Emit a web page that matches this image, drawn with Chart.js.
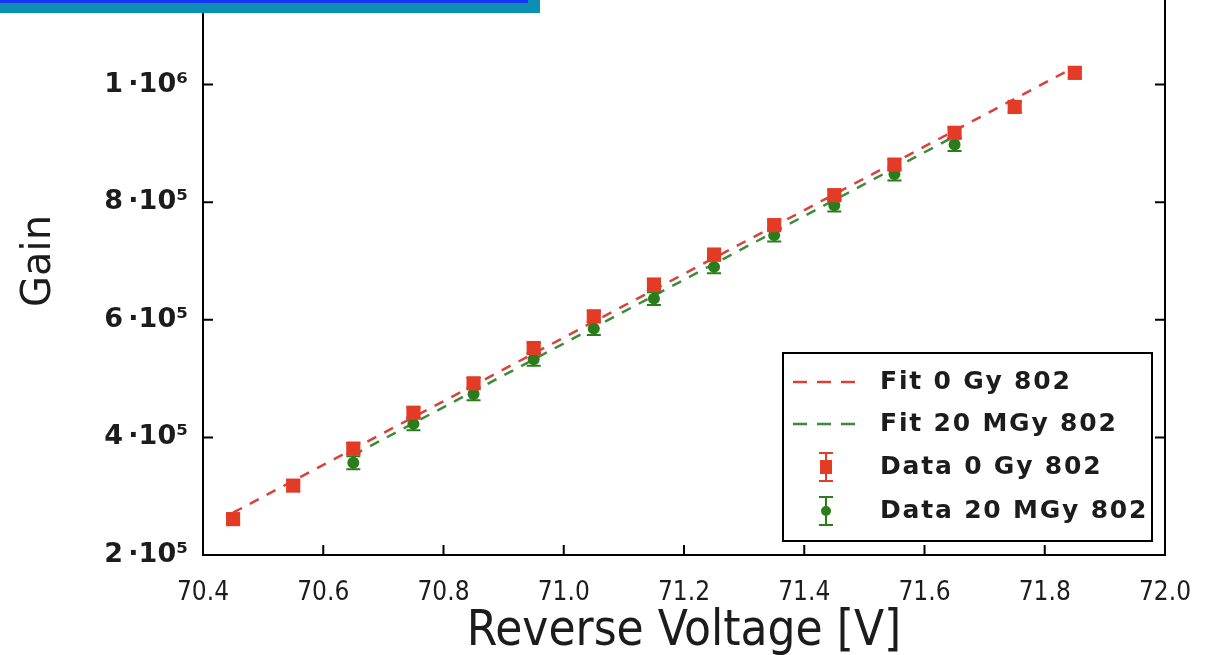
<!DOCTYPE html>
<html>
<head>
<meta charset="utf-8">
<script src="https://cdn.jsdelivr.net/npm/chart.js@4.4.1/dist/chart.umd.min.js"></script>
<style>
  html, body { margin: 0; padding: 0; background: #fff; overflow: hidden; width: 1227px; height: 655px; }
  #frame { position: absolute; left: 0; top: -43px; width: 1227px; height: 698px; }
  #band { position: absolute; left: 0; top: 0; width: 540px; height: 13px; background: #0b8fb2; }
  #bandLine { position: absolute; left: 0; top: 0; width: 528px; height: 3px; background: #1733f2; }
</style>
</head>
<body>
<div id="frame"><canvas id="gain" width="1227" height="698"></canvas></div>
<div id="band"></div>
<div id="bandLine"></div>
<script>
// Gain vs reverse voltage, unirradiated (0 Gy) and irradiated (20 MGy) sensor 802
const voltage0 = [70.45, 70.55, 70.65, 70.75, 70.85, 70.95, 71.05, 71.15, 71.25, 71.35, 71.45, 71.55, 71.65, 71.75, 71.85];
const gain0    = [2.61e5, 3.18e5, 3.81e5, 4.42e5, 4.92e5, 5.52e5, 6.06e5, 6.60e5, 7.11e5, 7.61e5, 8.12e5, 8.64e5, 9.18e5, 9.62e5, 1.020e6];
const gainErr0 = [0.9e4, 0.9e4, 0.9e4, 0.9e4, 0.9e4, 0.9e4, 0.9e4, 0.9e4, 0.9e4, 0.9e4, 0.9e4, 0.9e4, 0.9e4, 0.9e4, 0.9e4];

const voltage20 = [70.65, 70.75, 70.85, 70.95, 71.05, 71.15, 71.25, 71.35, 71.45, 71.55, 71.65];
const gain20    = [3.57e5, 4.23e5, 4.74e5, 5.33e5, 5.85e5, 6.36e5, 6.90e5, 7.44e5, 7.95e5, 8.48e5, 8.98e5];
const gainErr20 = [1.1e4, 1.1e4, 1.1e4, 1.1e4, 1.1e4, 1.1e4, 1.1e4, 1.1e4, 1.1e4, 1.1e4, 1.1e4];

// linear fits, evaluated at the ends of each data range
const fitVoltage0  = [70.45, 71.85];
const fitGain0     = [2.72e5, 1.030e6];
const fitVoltage20 = [70.65, 71.65];
const fitGain20    = [3.70e5, 9.12e5];

const xTickValues = [70.4, 70.6, 70.8, 71.0, 71.2, 71.4, 71.6, 71.8, 72.0];
const xTickLabels = ['70.4', '70.6', '70.8', '71.0', '71.2', '71.4', '71.6', '71.8', '72.0'];
const yTickValues = [2e5, 4e5, 6e5, 8e5, 1e6];
const yTickLabels = ['2\u2009\u00b710\u2075', '4\u2009\u00b710\u2075', '6\u2009\u00b710\u2075', '8\u2009\u00b710\u2075', '1\u2009\u00b710\u2076'];

const RED = '#e33b26', RED_LINE = '#d9413a';
const GREEN = '#2b7d1c', GREEN_LINE = '#3f8a38';
const COND = '"DejaVu Sans Condensed", "Liberation Sans Narrow", "DejaVu Sans", sans-serif';
const SANS = '"DejaVu Sans", sans-serif';
const INK = '#1c1c1c';

const pts = (xs, ys) => xs.map((x, i) => ({ x, y: ys[i] }));

// vertical error bars with caps, drawn right after each dataset
const errorBars = {
  id: 'errorBars',
  afterDatasetDraw(chart, args) {
    const ds = chart.data.datasets[args.index];
    if (!ds.errors) return;
    const { ctx } = chart;
    const yScale = chart.scales.y;
    ctx.save();
    ctx.strokeStyle = ds.errorColor;
    ctx.lineWidth = 2;
    args.meta.data.forEach((el, i) => {
      const v = ds.data[i].y, e = ds.errors[i];
      const top = yScale.getPixelForValue(v + e);
      const bot = yScale.getPixelForValue(v - e);
      ctx.beginPath();
      ctx.moveTo(el.x, top); ctx.lineTo(el.x, bot);
      ctx.moveTo(el.x - 7, top); ctx.lineTo(el.x + 7, top);
      ctx.moveTo(el.x - 7, bot); ctx.lineTo(el.x + 7, bot);
      ctx.stroke();
    });
    ctx.restore();
  }
};

// right frame edge and inward-pointing tick marks
const frameTicks = {
  id: 'frameTicks',
  afterDatasetsDraw(chart) {
    const { ctx, chartArea: a, scales: { x, y } } = chart;
    ctx.save();
    ctx.strokeStyle = '#000';
    ctx.lineWidth = 2;
    ctx.beginPath();
    ctx.moveTo(a.right, a.top); ctx.lineTo(a.right, a.bottom + 1);
    xTickValues.forEach(v => {
      const px = x.getPixelForValue(v);
      ctx.moveTo(px, a.bottom); ctx.lineTo(px, a.bottom - 10);
    });
    yTickValues.forEach(v => {
      const py = y.getPixelForValue(v);
      ctx.moveTo(a.left, py); ctx.lineTo(a.left + 10, py);
      ctx.moveTo(a.right, py); ctx.lineTo(a.right - 10, py);
    });
    ctx.stroke();
    ctx.restore();
  }
};

// boxed legend in the lower right corner of the plot
const legendOrder = [2, 3, 0, 1];
const boxLegend = {
  id: 'boxLegend',
  afterDraw(chart) {
    const { ctx, chartArea: a } = chart;
    const w = 369, h = 188;
    const bx = a.right - 13 - w, by = a.bottom - 14 - h;
    ctx.save();
    ctx.fillStyle = '#fff';
    ctx.fillRect(bx, by, w, h);
    ctx.strokeStyle = '#000';
    ctx.lineWidth = 2;
    ctx.strokeRect(bx, by, w, h);
    const rows = [29, 71, 114, 158];
    legendOrder.forEach((di, r) => {
      const ds = chart.data.datasets[di];
      const cy = by + rows[r];
      const cx = bx + 43;
      if (ds.showLine) {
        ctx.strokeStyle = ds.borderColor;
        ctx.lineWidth = 2.5;
        ctx.setLineDash([14, 10]);
        ctx.beginPath();
        ctx.moveTo(bx + 10, cy); ctx.lineTo(bx + 74, cy);
        ctx.stroke();
        ctx.setLineDash([]);
      } else {
        ctx.strokeStyle = ds.errorColor;
        ctx.lineWidth = 2;
        ctx.beginPath();
        ctx.moveTo(cx, cy - 14); ctx.lineTo(cx, cy + 14);
        ctx.moveTo(cx - 7, cy - 14); ctx.lineTo(cx + 7, cy - 14);
        ctx.moveTo(cx - 7, cy + 14); ctx.lineTo(cx + 7, cy + 14);
        ctx.stroke();
        ctx.fillStyle = ds.backgroundColor;
        if (ds.pointStyle === 'rect') {
          ctx.fillRect(cx - 6, cy - 7, 12, 14);
        } else {
          ctx.beginPath(); ctx.arc(cx, cy, 5, 0, Math.PI * 2); ctx.fill();
        }
      }
      ctx.fillStyle = INK;
      ctx.font = 'bold 25px ' + SANS;
      ctx.letterSpacing = '1.8px';
      ctx.textBaseline = 'middle';
      ctx.textAlign = 'left';
      ctx.fillText(ds.label, bx + 97, cy);
    });
    ctx.restore();
  }
};

new Chart(document.getElementById('gain'), {
  type: 'scatter',
  data: {
    datasets: [
      { label: 'Data 0 Gy 802', data: pts(voltage0, gain0), errors: gainErr0, errorColor: RED,
        pointStyle: 'rect', pointRadius: 10, backgroundColor: RED, borderWidth: 0, showLine: false },
      { label: 'Data 20 MGy 802', data: pts(voltage20, gain20), errors: gainErr20, errorColor: GREEN,
        pointStyle: 'circle', pointRadius: 6, backgroundColor: GREEN, borderWidth: 0, showLine: false },
      { label: 'Fit 0 Gy 802', data: pts(fitVoltage0, fitGain0), showLine: true, borderColor: RED_LINE,
        borderWidth: 2.5, borderDash: [10, 9], pointRadius: 0, fill: false },
      { label: 'Fit 20 MGy 802', data: pts(fitVoltage20, fitGain20), showLine: true, borderColor: GREEN_LINE,
        borderWidth: 2.5, borderDash: [10, 9], pointRadius: 0, fill: false }
    ]
  },
  options: {
    responsive: false,
    animation: false,
    devicePixelRatio: 1,
    layout: { padding: { left: 0, right: 62, top: 0, bottom: 0 } },
    plugins: { legend: { display: false }, tooltip: { enabled: false } },
    scales: {
      x: {
        type: 'linear', min: 70.4, max: 72.0,
        afterBuildTicks(s) { s.ticks = xTickValues.map(v => ({ value: v })); },
        afterFit(s) { s.height = 100; },
        ticks: {
          callback: (v, i) => xTickLabels[i],
          font: { family: COND, size: 26 }, color: INK, padding: 23,
          maxRotation: 0, autoSkip: false
        },
        grid: { drawOnChartArea: false, drawTicks: false },
        border: { display: true, color: '#000', width: 2 },
        title: { display: true, text: 'Reverse Voltage [V]', color: INK,
                 font: { family: COND, size: 49, lineHeight: 0.92 }, padding: { top: 0, bottom: 0 } }
      },
      y: {
        type: 'linear', min: 2e5, max: 1.2e6,
        afterBuildTicks(s) { s.ticks = yTickValues.map(v => ({ value: v })); },
        afterFit(s) { s.width = 203; s.paddingTop = 0; s.paddingBottom = 0; },
        ticks: {
          callback: (v, i) => yTickLabels[i],
          font: { family: SANS, size: 27, weight: 'bold' }, color: INK, padding: 15
        },
        grid: { drawOnChartArea: false, drawTicks: false },
        border: { display: true, color: '#000', width: 2 },
        title: { display: true, text: 'Gain', color: INK,
                 font: { family: SANS, size: 40, lineHeight: 1.2 }, padding: { top: 16, bottom: 0 } }
      }
    }
  },
  plugins: [errorBars, frameTicks, boxLegend]
});
</script>
</body>
</html>
